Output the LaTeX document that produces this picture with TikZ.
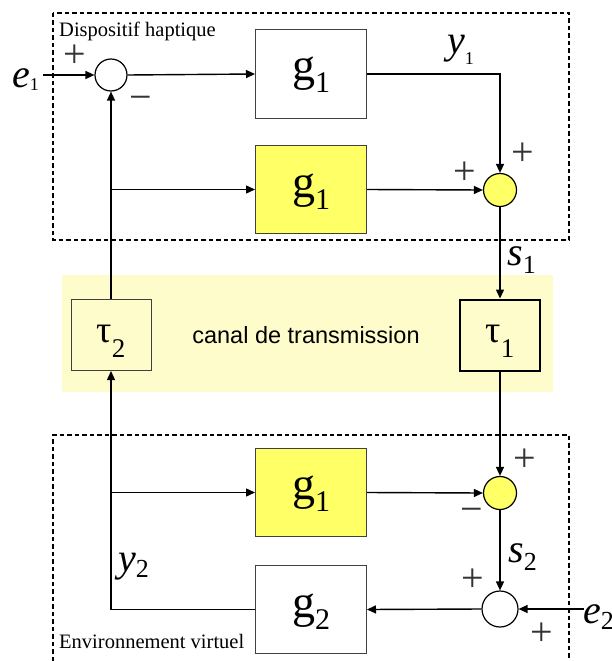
\documentclass[tikz,border=0pt]{standalone}
\usepackage{fontspec}
\setmainfont{Liberation Serif}
\newfontfamily\sansf{Liberation Sans}
\usetikzlibrary{arrows.meta}
\definecolor{gyel}{RGB}{255,255,102}
\definecolor{band}{RGB}{255,252,204}
\newcommand{\glab}[2]{{\fontsize{46}{46}\selectfont #1}\raisebox{-12pt}{\fontsize{30}{30}\selectfont #2}}
\newcommand{\tlab}[1]{{\fontsize{38}{38}\selectfont τ}\raisebox{-15pt}{\fontsize{27}{27}\selectfont #1}}
\newcommand{\vlab}[4]{{\fontsize{40}{40}\selectfont\itshape #1}\raisebox{-#3}{\fontsize{#4}{#4}\selectfont #2}}
\newcommand{\sgn}[1]{{\fontsize{40}{40}\selectfont #1}}
\begin{document}
\begin{tikzpicture}[x=1pt,y=-1pt,
  conn/.style={line width=1.4pt,-{Triangle[length=9pt,width=8pt]}},
  plain/.style={line width=1.4pt},
  blk/.style={draw=black!75,line width=1pt,minimum width=111pt,minimum height=88pt,inner sep=0pt,fill=white},
  yblk/.style={blk,fill=gyel},
  tbox/.style={draw=black!75,line width=1pt,minimum width=80pt,minimum height=71pt,inner sep=0pt,fill=band},
  sumc/.style={circle,draw=black,line width=1.2pt,inner sep=0pt,fill=white},
  ysum/.style={sumc,fill=gyel},
  dbox/.style={line width=1.3pt,dash pattern=on 4.5pt off 3pt},
  sign/.style={inner sep=0pt,text=black!80},
  txt/.style={inner sep=0pt}]
\useasboundingbox (0,0) rectangle (611,661);
% band
\fill[band] (62,275) rectangle (553,392);
% dashed boxes
\draw[dbox] (53,13) rectangle (569,240);
\draw[dbox] (53,661) -- (53,435) -- (569,435) -- (569,661);
\node[txt,anchor=base west] (dh) at (59,37) {\fontsize{20.5}{20.5}\selectfont Dispositif haptique};
\node[txt,anchor=base west] (ev) at (59,648) {\fontsize{20.5}{20.5}\selectfont Environnement virtuel};
\node[txt,anchor=base] (canal) at (306,343) {\sansf\fontsize{23.5}{23.5}\selectfont canal de transmission};
% blocks
\node[blk] (g1a) at (311,74) {};
\node[yblk] (g1b) at (311,189.5) {};
\node[yblk] (g1c) at (311,492.5) {};
\node[blk] (g2) at (311,609.5) {};
\node[txt,anchor=base] (g1at) at (311,81) {\glab{g}{1}};
\node[txt,anchor=base] (g1bt) at (311,197) {\glab{g}{1}};
\node[txt,anchor=base] (g1ct) at (311,499) {\glab{g}{1}};
\node[txt,anchor=base] (g2t) at (311,617) {\glab{g}{2}};
\node[tbox] (tau2) at (111,335) {};
\node[tbox,draw=black,line width=2pt] (tau1) at (500,335) {};
\node[txt,anchor=base] (tau2t) at (111,342) {\tlab{2}};
\node[txt,anchor=base] (tau1t) at (500,342) {\tlab{1}};
% summing junctions
\node[sumc,minimum size=32pt] (s1) at (111,75) {};
\node[ysum,minimum size=33pt] (s2) at (500,190) {};
\node[ysum,minimum size=33pt] (s3) at (500,493) {};
\node[sumc,minimum size=36pt] (s4) at (500,609) {};
% inputs
\coordinate (e1in) at (43,75);
\coordinate (e2in) at (584,609);
\node[txt,anchor=base west] (e1) at (12,87) {\vlab{e}{1}{3pt}{18}};
\node[txt,anchor=base west] (e2) at (583,623) {\vlab{e}{2}{6pt}{26}};
\node[txt,anchor=base west] (y1) at (447,54) {\vlab{y}{1}{11pt}{18}};
\node[txt,anchor=base west] (sl1) at (507,265) {\vlab{s}{1}{8pt}{26}};
\node[txt,anchor=base west] (sl2) at (508,562) {\vlab{s}{2}{8pt}{26}};
\node[txt,anchor=base west] (y2) at (118,571) {\vlab{y}{2}{6pt}{26}};
% signs
\node[sign] (p1) at (75,56) {\sgn{+}};
\node[sign] (m1) at (141,103) {\sgn{−}};
\node[sign] (p2a) at (465,173) {\sgn{+}};
\node[sign] (p2b) at (523,154) {\sgn{+}};
\node[sign] (p3) at (525,460) {\sgn{+}};
\node[sign] (m3) at (472,515) {\sgn{−}};
\node[sign] (p4a) at (473,580) {\sgn{+}};
\node[sign] (p4b) at (542,634) {\sgn{+}};
% connectors
\draw[conn] (e1in) -- (s1.west);
\draw[conn] (s1.east) -- (g1a.west);
\draw[conn] (g1a.east) -| (s2.north);
\draw[conn] (g1b.east) -- (s2.west);
\draw[conn] (tau2.north) -- (s1.south);
\coordinate (b1) at (tau2.north |- g1b.west);
\draw[conn] (b1) -- (g1b.west);
\draw[conn] (s2.south) -- (tau1.north);
\draw[conn] (tau1.south) -- (s3.north);
\coordinate (b2) at (tau2.south |- g1c.west);
\draw[conn] (b2) -- (g1c.west);
\draw[conn] (g1c.east) -- (s3.west);
\draw[conn] (s3.south) -- (s4.north);
\draw[conn] (e2in) -- (s4.east);
\draw[conn] (s4.west) -- (g2.east);
\draw[conn] (g2.west) -| (tau2.south);
\end{tikzpicture}
\end{document}
